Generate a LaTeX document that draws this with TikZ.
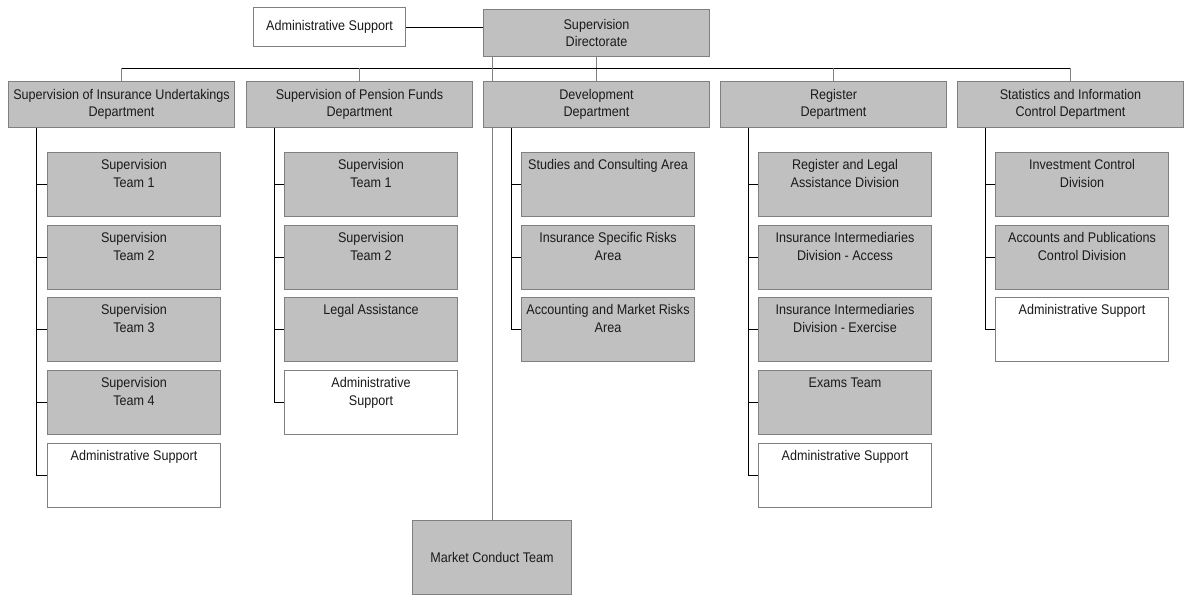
\documentclass[tikz,border=0pt]{standalone}
\usepackage{fontspec}
\setmainfont{Liberation Sans}[FakeStretch=0.9]
\usetikzlibrary{backgrounds}
\definecolor{boxgray}{HTML}{C0C0C0}
\definecolor{edgegray}{HTML}{808080}
\definecolor{inkgray}{HTML}{1A1A1A}
% text that sits at the top of a unit box
\newcommand{\unittext}[1]{\parbox[t][64pt][t]{173pt}{\centering\vspace*{5pt}\strut#1}}
\tikzset{
  dept/.style={draw=edgegray,fill=boxgray,line width=1pt,inner sep=0pt,
    minimum width=226pt,minimum height=46pt,align=center,anchor=north west},
  unit/.style={draw=edgegray,fill=boxgray,line width=1pt,inner sep=0pt,anchor=north west},
  support/.style={unit,fill=white},
  conn/.style={draw=black,line width=1pt},
  link/.style={draw=edgegray,line width=1pt}
}
\begin{document}
\begin{tikzpicture}[x=1pt,y=-1pt,every node/.append style={font=\fontsize{14}{17.5}\selectfont,text=inkgray}]
      \useasboundingbox (0,0) rectangle (1185,595);
      % top
      \node[support,minimum width=152pt,minimum height=39pt] (adm) at (253,7) {Administrative Support};
      \node[dept,minimum height=47pt] (dir) at (483,9) {Supervision\\Directorate};
      % departments
      \node[dept] (ins) at (8,81) {Supervision of Insurance Undertakings\\Department};
      \node[dept] (pen) at (246,81) {Supervision of Pension Funds\\Department};
      \node[dept] (dev) at (483,81) {Development\\Department};
      \node[dept] (reg) at (720,81) {Register\\Department};
      \node[dept] (sta) at (957,81) {Statistics and Information\\Control Department};
      % insurance undertakings
      \node[unit] (ins1) at (47,152) {\unittext{Supervision\\Team 1}};
      \node[unit] (ins2) at (47,225) {\unittext{Supervision\\Team 2}};
      \node[unit] (ins3) at (47,297) {\unittext{Supervision\\Team 3}};
      \node[unit] (ins4) at (47,370) {\unittext{Supervision\\Team 4}};
      \node[support] (ins5) at (47,443) {\unittext{Administrative Support}};
      % pension funds
      \node[unit] (pen1) at (284,152) {\unittext{Supervision\\Team 1}};
      \node[unit] (pen2) at (284,225) {\unittext{Supervision\\Team 2}};
      \node[unit] (pen3) at (284,297) {\unittext{Legal Assistance}};
      \node[support] (pen4) at (284,370) {\unittext{Administrative\\Support}};
      % development
      \node[unit] (dev1) at (521,152) {\unittext{Studies and Consulting Area}};
      \node[unit] (dev2) at (521,225) {\unittext{Insurance Specific Risks\\Area}};
      \node[unit] (dev3) at (521,297) {\unittext{Accounting and Market Risks\\Area}};
      \node[unit,anchor=center,minimum width=159pt,minimum height=74pt] (mkt) at (492,557) {Market Conduct Team};
      % register
      \node[unit] (reg1) at (758,152) {\unittext{Register and Legal\\Assistance Division}};
      \node[unit] (reg2) at (758,225) {\unittext{Insurance Intermediaries\\Division - Access}};
      \node[unit] (reg3) at (758,297) {\unittext{Insurance Intermediaries\\Division - Exercise}};
      \node[unit] (reg4) at (758,370) {\unittext{Exams Team}};
      \node[support] (reg5) at (758,443) {\unittext{Administrative Support}};
      % statistics
      \node[unit] (sta1) at (995,152) {\unittext{Investment Control\\Division}};
      \node[unit] (sta2) at (995,225) {\unittext{Accounts and Publications\\Control Division}};
      \node[support] (sta3) at (995,297) {\unittext{Administrative Support}};

      \begin{scope}[on background layer]
      \coordinate (bar) at (596,68);
      \draw[conn] (adm.east) -- (adm.east -| dir.west);
      \draw[link] (dir.south) -- (dev.north);
      \draw[conn] (ins.north |- bar) -- (sta.north |- bar);
      \foreach \d in {ins,pen,reg,sta}
        \draw[link] (\d.north) -- (\d.north |- bar);
      \draw[link] (mkt.north) -- (mkt.north |- dir.south);
      % spines
      \foreach \d/\last/\rest in {ins/ins5/{ins1,ins2,ins3,ins4},pen/pen4/{pen1,pen2,pen3},
          dev/dev3/{dev1,dev2},reg/reg5/{reg1,reg2,reg3,reg4},sta/sta3/{sta1,sta2}}{
        \coordinate (\d spine) at ([xshift=28pt]\d.south west);
        \draw[conn] (\d spine) |- (\last.west);
        \foreach \u in \rest
          \draw[conn] (\u.west) -- (\u.west -| \d spine);
      }
      \end{scope}
\end{tikzpicture}
\end{document}
